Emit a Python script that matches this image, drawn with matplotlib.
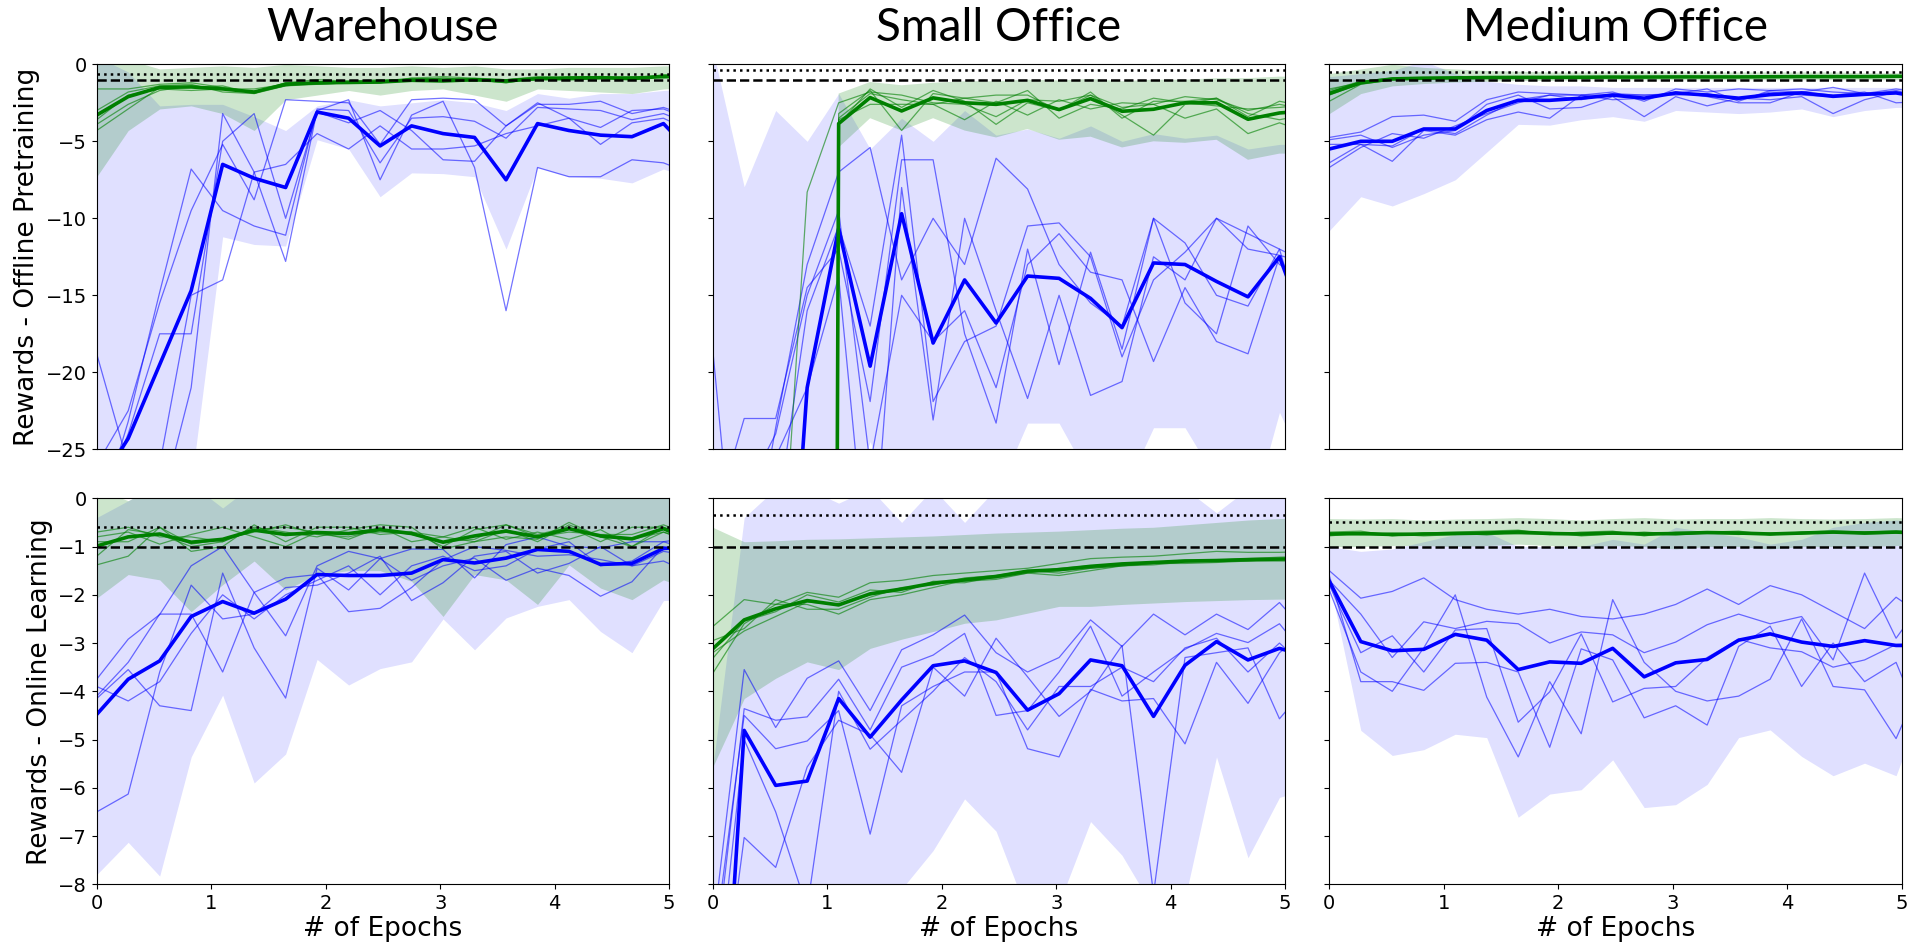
import numpy as np
import matplotlib
matplotlib.use("Agg")
import matplotlib.pyplot as plt

# x positions in epochs (20 evaluations, the last one lies just past 5)
epochs = np.arange(20) * 0.275

titles = ["Warehouse", "Small Office", "Medium Office"]
row_labels = ["Rewards - Offline Pretraining", "Rewards - Online Learning"]

# reference levels per building: dotted line and dashed line
dotted_levels = [-0.6, -0.35, -0.5]
dashed_level = -1.0

# ---------------- Warehouse, offline pretraining ----------------
wh_off_blue_mean = [-27.5, -24.3, -19.5, -14.7, -6.5, -7.4, -8.0, -3.1, -3.5, -5.3, -4.0, -4.5, -4.75, -7.5, -3.85, -4.3, -4.6, -4.7, -3.85, -6.0]
wh_off_blue_lo = [-32, -32, -32, -27.3, -11.2, -11.7, -11.8, -4.9, -5.5, -8.6, -7.05, -7.1, -7.3, -12.0, -6.7, -7.3, -7.4, -7.7, -6.8, -7.5]
wh_off_blue_hi = [0.5, -0.5, -2.7, -2.6, -2.6, -3.4, -4.3, -2.7, -2.3, -2.7, -2.5, -2.3, -2.5, -3.0, -1.9, -2.2, -1.9, -1.9, -1.7, -1.6]
wh_off_blue_runs = [
    [-18.8, -26.0, -29.0, -21.0, -3.2, -7.0, -12.8, -3.0, -2.3, -7.5, -3.3, -2.4, -6.7, -16.0, -6.7, -7.3, -7.3, -6.2, -6.4, -7.2],
    [-26.0, -22.5, -15.5, -9.5, -5.2, -8.8, -2.3, -2.4, -2.5, -5.2, -2.3, -2.2, -2.3, -4.0, -2.6, -2.6, -2.4, -3.2, -2.8, -3.5],
    [-29.0, -24.0, -17.5, -17.5, -5.0, -3.2, -10.0, -3.1, -3.8, -3.0, -4.3, -6.2, -6.3, -4.0, -2.5, -3.5, -4.1, -3.0, -2.9, -3.7],
    [-30.0, -23.2, -14.8, -6.8, -9.5, -10.5, -11.1, -2.9, -3.0, -6.4, -3.5, -3.4, -3.7, -4.8, -2.8, -2.9, -3.0, -3.6, -3.2, -4.0],
    [-30.0, -28.0, -26.0, -15.0, -14.0, -7.0, -6.5, -4.5, -5.5, -4.0, -5.5, -5.5, -5.3, -4.5, -4.0, -3.5, -5.2, -3.8, -3.5, -4.5],
]
wh_off_green_mean = [-3.3, -2.1, -1.5, -1.47, -1.6, -1.8, -1.3, -1.2, -1.18, -1.15, -1.04, -1.08, -1.0, -1.08, -0.93, -0.93, -0.87, -0.93, -0.78, -0.8]
wh_off_green_lo = [-7.3, -4.3, -2.9, -2.7, -3.2, -4.3, -2.3, -2.0, -1.7, -2.0, -1.7, -1.6, -2.0, -2.4, -1.6, -1.7, -1.8, -1.9, -1.6, -1.5]
wh_off_green_hi = [0.5, 0.3, -0.3, -0.2, -0.1, -0.2, 0.0, -0.1, -0.2, -0.2, -0.1, -0.2, -0.1, -0.3, -0.3, -0.2, -0.2, -0.2, -0.1, -0.1]
wh_off_green_runs = [
    [-1.6, -1.6, -1.3, -1.2, -1.5, -1.8, -1.2, -1.0, -1.1, -1.1, -0.9, -0.8, -0.9, -1.0, -0.8, -0.8, -0.8, -0.9, -0.7, -0.6],
    [-4.3, -2.9, -1.5, -1.5, -1.4, -1.9, -1.4, -1.2, -1.1, -1.0, -1.0, -1.1, -1.0, -1.2, -0.9, -0.9, -0.9, -0.8, -0.9, -0.8],
    [-3.6, -2.0, -1.6, -1.7, -1.6, -1.6, -1.3, -1.3, -1.2, -1.2, -0.9, -1.0, -1.1, -1.1, -1.0, -0.8, -0.8, -1.0, -0.8, -0.7],
    [-3.0, -1.8, -1.4, -1.3, -1.8, -1.9, -1.2, -1.2, -1.2, -1.1, -1.0, -0.9, -1.0, -1.2, -0.9, -0.9, -0.9, -0.8, -0.8, -0.7],
    [-3.9, -2.6, -1.7, -1.4, -1.6, -1.8, -1.4, -1.3, -1.2, -1.2, -1.0, -0.9, -1.0, -1.0, -0.9, -0.85, -0.8, -0.85, -0.75, -0.7],
]

# ---------------- Small Office, offline pretraining ----------------
so_off_blue_mean = [-70, -65, -50, -21.0, -10.66, -19.6, -9.7, -18.1, -14.0, -16.8, -13.75, -13.9, -15.2, -17.1, -12.9, -13.0, -14.1, -15.1, -12.5, -18.0]
so_off_blue_lo = [-40, -40, -40, -40, -30, -24.5, -30, -27, -30, -28, -23.3, -23.3, -27, -28, -23.6, -23.6, -27, -30, -22.6, -27]
so_off_blue_hi = [1.0, -7.95, -3.0, -5.0, -1.9, -5.5, -3.5, -5.0, -3.0, -4.6, -4.2, -4.8, -4.0, -5.0, -4.5, -4.8, -4.6, -5.5, -5.2, -5.2]
so_off_blue_runs = [
    [-26, -35, -23.6, -13.0, -7.0, -5.4, -14.0, -10.0, -13.0, -6.1, -8.1, -13.0, -15.5, -17.0, -10.0, -11.6, -15.0, -15.7, -12.0, -19.0],
    [-18.5, -40, -30, -16.0, -10.5, -17.0, -4.6, -21.9, -18.0, -17.0, -10.5, -10.3, -12.5, -19.0, -14.0, -12.2, -10.0, -12.0, -12.4, -13.0],
    [-30, -23.0, -23.0, -14.5, -12.0, -21.9, -6.2, -6.2, -17.5, -23.3, -12.0, -19.5, -12.2, -18.5, -10.0, -15.5, -17.5, -10.5, -13.0, -14.0],
    [-40, -30, -25.5, -21.0, -13.8, -35, -8.0, -23.1, -10.0, -16.0, -21.7, -15.0, -21.5, -20.6, -12.5, -14.0, -10.0, -11.0, -12.0, -13.0],
    [-35, -28, -24.0, -15.0, -9.5, -26, -15.0, -18.0, -16.0, -21.0, -13.0, -11.0, -13.5, -14.0, -19.3, -14.5, -18.0, -18.8, -12.5, -18.5],
]
so_off_green_mean = [-500, -500, -500, -500, -3.85, -2.16, -3.03, -2.18, -2.5, -2.6, -2.34, -2.94, -2.23, -3.05, -2.92, -2.5, -2.5, -3.57, -3.16, -3.0]
so_off_green_lo = [-600, -600, -600, -600, -5.4, -3.5, -4.3, -3.5, -4.3, -4.75, -4.2, -4.9, -4.7, -5.4, -5.0, -5.1, -4.9, -6.2, -5.8, -5.8]
so_off_green_hi = [-400, -400, -400, -400, -1.9, -1.15, -1.36, -1.2, -1.1, -1.1, -1.0, -1.05, -0.95, -1.1, -1.0, -1.0, -0.9, -0.9, -0.8, -0.8]
so_off_green_runs = [
    [-60, -50, -40, -8.3, -2.5, -1.8, -2.0, -2.5, -2.6, -3.4, -2.3, -2.4, -2.0, -2.8, -2.6, -2.1, -2.3, -3.0, -2.6, -3.0],
    [-500, -500, -500, -500, -3.2, -1.7, -4.3, -1.9, -2.2, -2.0, -2.0, -3.0, -1.8, -3.5, -2.4, -2.4, -2.2, -3.4, -2.4, -2.8],
    [-500, -500, -500, -500, -3.6, -2.6, -2.6, -2.6, -3.6, -2.4, -3.3, -2.3, -2.9, -2.5, -2.6, -3.5, -2.9, -4.5, -3.8, -4.5],
    [-500, -500, -500, -500, -3.9, -1.6, -2.8, -1.7, -2.4, -3.9, -2.5, -3.0, -2.0, -3.3, -4.6, -2.6, -2.2, -3.2, -3.6, -3.2],
    [-500, -500, -500, -500, -3.5, -1.9, -2.3, -2.6, -2.2, -2.5, -1.7, -3.5, -2.6, -2.9, -2.2, -2.5, -2.7, -2.9, -2.8, -2.6],
]

# ---------------- Medium Office, offline pretraining ----------------
mo_off_blue_mean = [-5.5, -5.0, -5.0, -4.2, -4.2, -3.0, -2.34, -2.34, -2.2, -2.0, -2.2, -1.86, -2.0, -2.2, -1.97, -1.86, -2.08, -1.95, -1.86, -2.2]
mo_off_blue_lo = [-10.8, -8.6, -9.2, -8.4, -7.5, -5.7, -3.9, -3.95, -3.6, -3.4, -3.7, -3.0, -3.1, -3.2, -3.1, -2.9, -3.4, -3.0, -2.8, -2.8]
mo_off_blue_hi = [-0.8, -0.6, -0.4, 0.2, -0.6, -1.1, -1.3, -1.4, -1.4, -1.5, -1.5, -1.5, -1.5, -1.5, -1.5, -1.5, -1.5, -1.5, -1.5, -1.5]
mo_off_blue_runs = [
    [-4.75, -4.4, -3.4, -3.3, -3.7, -2.3, -1.8, -1.9, -2.0, -1.8, -2.4, -1.6, -1.8, -1.6, -1.7, -1.6, -1.8, -1.9, -1.6, -1.9],
    [-4.9, -4.6, -5.4, -4.6, -4.3, -2.6, -2.0, -2.9, -2.8, -2.1, -3.4, -2.1, -2.7, -2.2, -2.3, -2.1, -3.2, -2.3, -1.8, -2.1],
    [-6.4, -5.2, -6.3, -4.3, -4.6, -3.6, -3.1, -3.5, -2.0, -2.3, -2.2, -1.8, -2.1, -2.5, -2.5, -1.8, -2.0, -1.8, -2.5, -2.4],
    [-6.7, -5.4, -4.5, -4.8, -4.0, -3.2, -2.5, -2.0, -2.3, -1.9, -2.0, -2.0, -1.9, -2.3, -1.8, -2.0, -2.1, -2.0, -1.7, -2.2],
    [-5.2, -5.2, -5.3, -4.2, -4.5, -3.3, -2.3, -2.0, -2.0, -2.0, -2.0, -1.9, -1.6, -2.4, -1.7, -1.8, -1.5, -1.9, -1.8, -2.3],
]
mo_off_green_mean = [-1.9, -1.2, -0.95, -0.9, -0.88, -0.86, -0.85, -0.85, -0.84, -0.83, -0.83, -0.82, -0.82, -0.82, -0.81, -0.8, -0.8, -0.8, -0.78, -0.78]
mo_off_green_lo = [-3.2, -1.9, -1.4, -1.25, -1.15, -1.1, -1.05, -1.05, -1.0, -1.0, -1.0, -1.0, -1.0, -1.0, -1.0, -1.0, -1.0, -1.0, -1.0, -1.0]
mo_off_green_hi = [-0.6, -0.3, 0.0, -0.2, -0.3, -0.4, -0.45, -0.5, -0.5, -0.5, -0.5, -0.5, -0.5, -0.5, -0.5, -0.5, -0.5, -0.55, -0.55, -0.55]
mo_off_green_runs = [
    [-1.7, -1.1, -0.9, -0.88, -0.87, -0.85, -0.85, -0.84, -0.83, -0.83, -0.82, -0.82, -0.81, -0.82, -0.8, -0.8, -0.8, -0.79, -0.78, -0.78],
    [-2.0, -1.25, -0.95, -0.9, -0.88, -0.87, -0.85, -0.86, -0.85, -0.84, -0.84, -0.83, -0.83, -0.82, -0.82, -0.81, -0.8, -0.81, -0.79, -0.79],
    [-2.4, -1.3, -1.0, -0.92, -0.9, -0.88, -0.86, -0.85, -0.84, -0.83, -0.83, -0.82, -0.82, -0.83, -0.81, -0.8, -0.81, -0.8, -0.78, -0.78],
    [-1.8, -1.15, -0.93, -0.9, -0.87, -0.86, -0.84, -0.85, -0.84, -0.82, -0.83, -0.81, -0.82, -0.81, -0.8, -0.8, -0.79, -0.8, -0.78, -0.77],
    [-1.6, -1.2, -0.97, -0.92, -0.89, -0.85, -0.86, -0.84, -0.85, -0.83, -0.82, -0.82, -0.81, -0.82, -0.81, -0.79, -0.8, -0.8, -0.79, -0.78],
]

# ---------------- Warehouse, online learning ----------------
wh_on_blue_mean = [-4.48, -3.75, -3.37, -2.45, -2.14, -2.38, -2.09, -1.58, -1.6, -1.6, -1.55, -1.27, -1.34, -1.24, -1.06, -1.1, -1.37, -1.35, -1.04, -1.0]
wh_on_blue_lo = [-7.8, -7.13, -7.83, -5.36, -4.08, -5.9, -5.3, -3.34, -3.87, -3.53, -3.39, -2.5, -3.14, -2.48, -2.24, -2.1, -2.76, -3.2, -2.12, -2.1]
wh_on_blue_hi = [-0.4, -0.05, 0.3, 0.3, -0.2, 0.3, 0.3, 0.3, 0.3, 0.3, 0.3, 0.3, 0.3, 0.0, 0.3, 0.3, 0.2, 0.3, 0.3, 0.3]
wh_on_blue_runs = [
    [-3.75, -2.92, -2.41, -1.4, -1.0, -1.95, -2.85, -1.4, -1.1, -1.25, -1.05, -1.06, -1.65, -0.96, -0.8, -1.0, -1.03, -0.9, -0.9, -1.1],
    [-4.15, -3.55, -4.3, -4.4, -1.55, -3.1, -4.14, -1.45, -1.9, -1.25, -1.7, -1.4, -1.24, -1.7, -1.45, -1.6, -2.03, -1.73, -1.0, -1.3],
    [-4.1, -3.4, -2.4, -2.4, -3.6, -1.95, -1.65, -1.58, -2.35, -2.28, -1.85, -1.28, -1.0, -1.08, -1.2, -1.17, -1.27, -1.4, -1.1, -1.2],
    [-6.5, -6.13, -3.6, -1.8, -2.5, -2.4, -1.85, -1.8, -1.55, -1.2, -2.12, -1.75, -1.2, -1.1, -1.55, -1.35, -1.0, -1.4, -1.3, -1.6],
    [-3.9, -4.2, -3.8, -2.8, -2.0, -2.5, -2.0, -1.7, -1.4, -2.0, -1.4, -1.2, -1.5, -1.4, -1.05, -0.9, -1.4, -1.3, -0.9, -0.8],
]
wh_on_green_mean = [-0.99, -0.8, -0.74, -0.91, -0.85, -0.66, -0.75, -0.71, -0.73, -0.65, -0.73, -0.91, -0.78, -0.68, -0.8, -0.63, -0.78, -0.84, -0.63, -0.9]
wh_on_green_lo = [-2.07, -1.58, -1.69, -2.35, -1.79, -1.3, -1.9, -1.58, -1.5, -1.5, -1.72, -2.45, -1.58, -1.69, -2.2, -1.38, -1.86, -2.1, -1.69, -1.93]
wh_on_green_hi = [0.2, -0.05, 0.3, 0.3, 0.2, 0.3, 0.3, 0.3, 0.3, 0.3, 0.3, 0.2, 0.3, 0.3, 0.3, 0.3, 0.3, 0.3, 0.3, 0.3]
wh_on_green_runs = [
    [-1.38, -1.2, -0.6, -1.1, -1.0, -0.55, -0.9, -0.6, -0.6, -0.75, -0.7, -1.0, -0.65, -0.55, -0.75, -0.6, -0.9, -0.6, -0.6, -0.8],
    [-0.8, -0.7, -0.95, -0.75, -0.6, -0.8, -1.0, -0.7, -0.85, -0.6, -0.9, -0.8, -0.6, -0.85, -0.7, -0.85, -0.65, -1.0, -0.6, -1.0],
    [-1.2, -0.65, -0.75, -1.0, -0.9, -0.6, -0.7, -0.8, -0.65, -0.55, -0.6, -1.05, -0.9, -0.65, -0.9, -0.55, -0.8, -0.85, -0.7, -0.9],
    [-0.9, -0.9, -0.6, -0.95, -0.85, -0.7, -0.55, -0.75, -0.8, -0.65, -0.75, -0.9, -0.85, -0.55, -0.8, -0.7, -0.75, -0.75, -0.55, -0.8],
    [-0.7, -0.6, -0.8, -0.8, -0.9, -0.65, -0.6, -0.7, -0.75, -0.7, -0.7, -0.8, -0.9, -0.8, -0.85, -0.5, -0.8, -1.0, -0.7, -0.95],
]

# ---------------- Small Office, online learning ----------------
so_on_blue_mean = [-15.0, -4.81, -5.95, -5.86, -4.15, -4.95, -4.18, -3.47, -3.37, -3.61, -4.39, -4.05, -3.35, -3.47, -4.52, -3.46, -2.97, -3.35, -3.11, -3.3]
so_on_blue_lo = [-15, -12, -10, -9, -9, -8.5, -8.1, -7.3, -6.23, -6.9, -8.6, -8.4, -6.7, -7.4, -8.5, -8.3, -5.36, -7.45, -6.2, -6.0]
so_on_blue_hi = [-5.6, -0.4, 0.2, 0.2, -0.1, 0.2, -0.5, 0.2, -0.5, 0.2, 0.2, 0.2, 0.2, 0.2, 0.2, 0.2, -0.3, 0.2, 0.2, 0.2]
so_on_blue_runs = [
    [-9.0, -3.55, -4.75, -3.73, -3.37, -4.4, -3.14, -2.83, -2.42, -3.2, -3.6, -3.3, -2.52, -3.07, -2.4, -2.83, -2.4, -2.72, -2.16, -2.9],
    [-10.0, -4.36, -4.6, -4.53, -3.75, -4.8, -3.5, -3.25, -2.8, -4.5, -4.4, -3.6, -2.65, -4.1, -3.6, -3.13, -2.8, -2.99, -2.6, -3.4],
    [-9.5, -4.5, -5.19, -5.03, -4.4, -6.96, -4.3, -3.9, -3.6, -3.6, -5.19, -5.36, -3.96, -4.2, -4.15, -5.09, -3.4, -4.25, -3.2, -2.7],
    [-12.0, -7.03, -7.65, -5.57, -4.6, -4.9, -5.68, -3.5, -4.1, -2.9, -3.7, -4.52, -4.0, -3.05, -8.2, -3.3, -3.2, -3.1, -4.57, -3.8],
    [-11.0, -5.0, -6.5, -8.5, -4.0, -5.2, -4.6, -4.0, -3.3, -3.8, -4.8, -3.9, -3.9, -3.5, -3.8, -3.1, -2.9, -3.6, -3.0, -3.6],
]
so_on_green_mean = [-3.12, -2.52, -2.29, -2.12, -2.21, -1.98, -1.88, -1.76, -1.69, -1.62, -1.51, -1.48, -1.41, -1.36, -1.33, -1.3, -1.29, -1.27, -1.26, -1.25]
so_on_green_lo = [-5.57, -4.15, -3.73, -3.39, -3.55, -3.11, -2.92, -2.76, -2.59, -2.52, -2.38, -2.24, -2.24, -2.2, -2.17, -2.14, -2.12, -2.1, -2.09, -2.09]
so_on_green_hi = [-0.6, -0.9, -0.88, -0.85, -0.84, -0.82, -0.8, -0.78, -0.75, -0.72, -0.7, -0.68, -0.65, -0.62, -0.6, -0.55, -0.5, -0.45, -0.42, -0.4]
so_on_green_runs = [
    [-2.66, -2.1, -2.2, -1.95, -2.05, -1.75, -1.7, -1.6, -1.55, -1.5, -1.45, -1.35, -1.25, -1.22, -1.2, -1.15, -1.1, -1.12, -1.12, -1.1],
    [-2.95, -2.7, -2.1, -2.3, -2.3, -2.05, -1.85, -1.8, -1.65, -1.6, -1.5, -1.55, -1.45, -1.4, -1.38, -1.32, -1.3, -1.3, -1.25, -1.25],
    [-3.32, -2.55, -2.35, -2.0, -2.15, -1.9, -1.95, -1.72, -1.72, -1.68, -1.55, -1.45, -1.4, -1.35, -1.33, -1.28, -1.28, -1.25, -1.22, -1.2],
    [-3.63, -2.6, -2.2, -2.2, -2.4, -2.1, -2.0, -1.85, -1.7, -1.65, -1.55, -1.6, -1.5, -1.4, -1.35, -1.35, -1.33, -1.3, -1.3, -1.3],
    [-3.2, -2.75, -2.45, -2.15, -2.2, -2.0, -1.9, -1.75, -1.75, -1.62, -1.5, -1.5, -1.45, -1.4, -1.35, -1.3, -1.3, -1.28, -1.25, -1.25],
]

# ---------------- Medium Office, online learning ----------------
mo_on_blue_mean = [-1.72, -2.97, -3.16, -3.13, -2.82, -2.94, -3.55, -3.39, -3.42, -3.11, -3.7, -3.41, -3.34, -2.94, -2.81, -2.98, -3.07, -2.95, -3.05, -3.05]
mo_on_blue_lo = [-1.7, -4.81, -5.33, -5.21, -4.89, -4.96, -6.61, -6.13, -6.04, -5.42, -6.41, -6.35, -5.93, -4.96, -4.8, -5.35, -5.75, -5.49, -5.75, -4.0]
mo_on_blue_hi = [-1.0, -1.1, -1.05, -0.9, -0.75, -0.7, -1.0, -1.0, -1.0, -0.85, -0.95, -0.6, -0.7, -0.8, -0.95, -0.85, -0.6, -0.5, -0.45, -0.5]
mo_on_blue_runs = [
    [-1.5, -2.07, -1.93, -1.65, -2.1, -2.3, -2.4, -2.3, -2.45, -2.5, -2.4, -2.2, -1.88, -2.2, -1.81, -2.0, -2.35, -2.7, -2.05, -2.5],
    [-1.7, -2.4, -3.3, -2.56, -2.7, -2.55, -2.6, -3.0, -2.77, -2.83, -3.2, -2.98, -2.62, -2.4, -2.6, -2.45, -3.35, -1.55, -2.9, -2.0],
    [-1.8, -3.2, -2.85, -3.6, -2.73, -2.7, -4.64, -4.01, -2.81, -4.22, -3.94, -3.9, -3.3, -2.92, -3.1, -3.18, -3.5, -3.35, -3.03, -3.0],
    [-1.6, -3.8, -3.8, -3.98, -3.42, -3.4, -3.6, -5.16, -3.12, -3.35, -4.55, -4.3, -4.7, -3.07, -2.65, -3.9, -3.0, -3.8, -3.4, -4.98],
    [-1.9, -3.6, -4.0, -3.1, -2.0, -4.12, -5.36, -3.8, -4.88, -2.1, -3.4, -4.0, -4.2, -4.1, -3.75, -2.5, -3.9, -3.97, -4.98, -3.5],
]
mo_on_green_mean = [-0.74, -0.73, -0.75, -0.74, -0.73, -0.72, -0.7, -0.73, -0.74, -0.72, -0.74, -0.73, -0.71, -0.72, -0.74, -0.72, -0.7, -0.72, -0.7, -0.73]
mo_on_green_lo = [-1.0, -1.0, -0.98, -0.98, -1.0, -0.98, -0.95, -0.98, -1.0, -0.98, -1.0, -1.05, -1.0, -1.0, -1.05, -1.0, -1.0, -1.0, -0.98, -0.95]
mo_on_green_hi = [-0.42, -0.43, -0.42, -0.45, -0.43, -0.42, -0.4, -0.42, -0.45, -0.42, -0.4, -0.43, -0.42, -0.42, -0.4, -0.42, -0.43, -0.42, -0.4, -0.42]
mo_on_green_runs = [
    [-0.7, -0.68, -0.78, -0.72, -0.7, -0.68, -0.66, -0.75, -0.7, -0.68, -0.78, -0.7, -0.7, -0.68, -0.76, -0.7, -0.68, -0.7, -0.68, -0.72],
    [-0.78, -0.72, -0.74, -0.78, -0.75, -0.7, -0.72, -0.7, -0.78, -0.74, -0.72, -0.76, -0.72, -0.75, -0.72, -0.74, -0.7, -0.74, -0.72, -0.74],
    [-0.74, -0.76, -0.72, -0.74, -0.72, -0.76, -0.7, -0.74, -0.72, -0.7, -0.74, -0.72, -0.7, -0.74, -0.73, -0.71, -0.72, -0.7, -0.7, -0.72],
    [-0.72, -0.75, -0.76, -0.72, -0.74, -0.72, -0.68, -0.72, -0.75, -0.74, -0.7, -0.74, -0.72, -0.7, -0.75, -0.72, -0.7, -0.73, -0.69, -0.74],
    [-0.76, -0.74, -0.75, -0.74, -0.74, -0.74, -0.74, -0.74, -0.75, -0.72, -0.76, -0.73, -0.71, -0.73, -0.74, -0.73, -0.7, -0.73, -0.71, -0.73],
]

panels = [
    [
        (wh_off_blue_mean, wh_off_blue_lo, wh_off_blue_hi, wh_off_blue_runs,
         wh_off_green_mean, wh_off_green_lo, wh_off_green_hi, wh_off_green_runs),
        (so_off_blue_mean, so_off_blue_lo, so_off_blue_hi, so_off_blue_runs,
         so_off_green_mean, so_off_green_lo, so_off_green_hi, so_off_green_runs),
        (mo_off_blue_mean, mo_off_blue_lo, mo_off_blue_hi, mo_off_blue_runs,
         mo_off_green_mean, mo_off_green_lo, mo_off_green_hi, mo_off_green_runs),
    ],
    [
        (wh_on_blue_mean, wh_on_blue_lo, wh_on_blue_hi, wh_on_blue_runs,
         wh_on_green_mean, wh_on_green_lo, wh_on_green_hi, wh_on_green_runs),
        (so_on_blue_mean, so_on_blue_lo, so_on_blue_hi, so_on_blue_runs,
         so_on_green_mean, so_on_green_lo, so_on_green_hi, so_on_green_runs),
        (mo_on_blue_mean, mo_on_blue_lo, mo_on_blue_hi, mo_on_blue_runs,
         mo_on_green_mean, mo_on_green_lo, mo_on_green_hi, mo_on_green_runs),
    ],
]

row_ylims = [(-25, 0), (-8, 0)]
row_yticks = [[0, -5, -10, -15, -20, -25], [0, -1, -2, -3, -4, -5, -6, -7, -8]]

W, H = 1915, 950
fig = plt.figure(figsize=(W / 100, H / 100), dpi=100)

col_left = [96.7, 712.7, 1329.3]
ax_w = 572.5
row_top = [64.3, 498.3]
ax_h = [385.0, 386.0]

for r in range(2):
    for c in range(3):
        ax = fig.add_axes([col_left[c] / W, 1 - (row_top[r] + ax_h[r]) / H, ax_w / W, ax_h[r] / H])
        b_mean, b_lo, b_hi, b_runs, g_mean, g_lo, g_hi, g_runs = panels[r][c]

        ax.fill_between(epochs, b_lo, b_hi, color="b", alpha=0.12, linewidth=0)
        ax.fill_between(epochs, g_lo, g_hi, color="g", alpha=0.2, linewidth=0)
        for run in b_runs:
            ax.plot(epochs, run, color="b", alpha=0.55, lw=0.9)
        for run in g_runs:
            ax.plot(epochs, run, color="g", alpha=0.6, lw=0.9)
        ax.plot(epochs, b_mean, color="b", lw=2.6)
        ax.plot(epochs, g_mean, color="g", lw=2.6)

        ax.axhline(dotted_levels[c], color="k", ls=":", lw=1.8)
        ax.axhline(dashed_level, color="k", ls="--", lw=1.8)

        ax.set_xlim(0, 5)
        ax.set_ylim(*row_ylims[r])
        ax.set_yticks(row_yticks[r])
        ax.set_xticks([0, 1, 2, 3, 4, 5])
        ax.tick_params(labelsize=14)

        if c == 0:
            ax.set_ylabel(row_labels[r], fontsize=19)
        else:
            ax.tick_params(axis="y", labelleft=False)

        if r == 0:
            ax.tick_params(axis="x", bottom=False, labelbottom=False)
            fig.text((col_left[c] + ax_w / 2) / W, 1 - 28 / H, titles[c],
                     fontsize=33, family="Lato", ha="center", va="center")
        else:
            ax.set_xlabel("# of Epochs", fontsize=19, labelpad=2)

fig.savefig("out.png", dpi=100)
